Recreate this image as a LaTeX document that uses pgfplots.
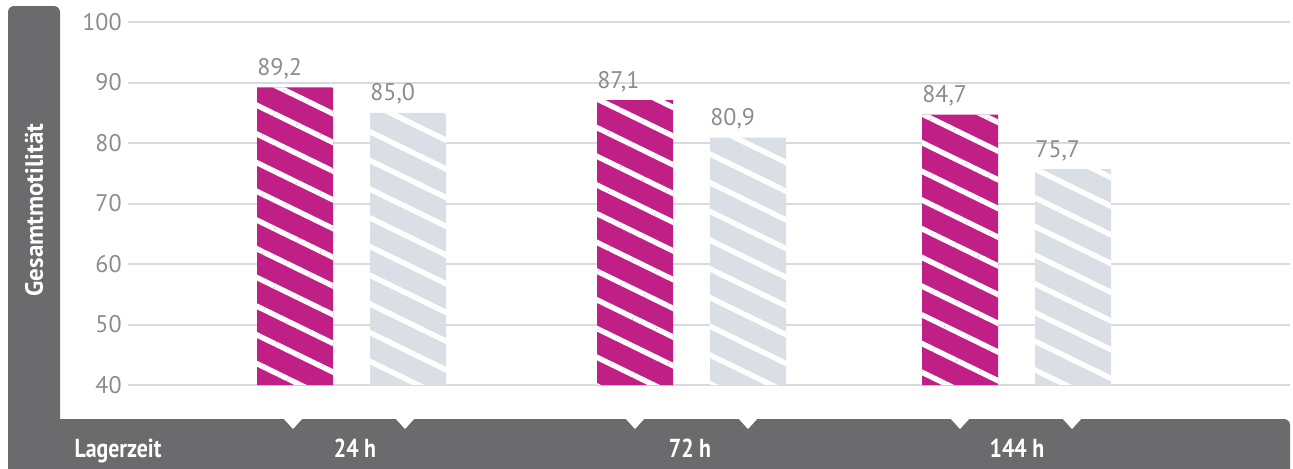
\documentclass[border=0pt]{standalone}
\usepackage{fontspec}
\setmainfont{PT Sans}
\usepackage{pgfplots}
\usepackage{pgfplotstable}
\pgfplotsset{compat=1.18}
\usetikzlibrary{patterns.meta}
\definecolor{mag}{HTML}{C01F86}
\definecolor{pale}{HTML}{D9DFE4}
\definecolor{band}{HTML}{6B6B6D}
\definecolor{gridc}{HTML}{D9D9E1}
\definecolor{numc}{HTML}{8C8C8C}
\newcommand\lab[1]{\scalebox{0.84}[1]{\bfseries #1}}

\pgfplotstableread{
x    v
295  89.2
635  87.1
960  84.7
}\kryo
\pgfplotstableread{
x    v
408  85.0
748  80.9
1073 75.7
}\kontrolle

\begin{document}
\begin{tikzpicture}
% background bands, 1 px = 0.5pt, y measured from top
\begin{scope}[x=0.5pt,y=-0.5pt,shift={(0pt,234pt)}]
  \fill[band] (8,472) [rounded corners=3pt] -- (8,6) -- (60,6) [sharp corners] -- (60,419)
    [rounded corners=3pt] -- (1290,419) [sharp corners] -- (1290,472) -- cycle;
  \foreach \c in {293,405,635,748,960,1072}
    \fill[white] (\c-10,418) -- (\c+10,418) -- (\c,429) -- cycle;
  \foreach \g in {0,10,...,60}
    \draw[gridc,line width=1pt] (128,385-\g*6.05) -- (1290,385-\g*6.05);
\end{scope}
\begin{axis}[
  scale only axis,
  width=646.5pt, height=234pt,
  at={(0,0)}, anchor=south west,
  xmin=0, xmax=1293,
  ymin=-13.72, ymax=63.64,
  axis line style={draw=none},
  major tick length=0pt,
  ytick={0,10,...,60},
  yticklabels={40,50,60,70,80,90,100},
  yticklabel style={anchor=east, inner sep=0pt, xshift=61pt,
    font=\fontsize{12}{13}\selectfont, text=numc},
  xtick={118,355,690,1017},
  xticklabels={\lab{Lagerzeit},\lab{24 h},\lab{72 h},\lab{144 h}},
  xticklabel style={anchor=base, inner sep=0pt, yshift=5.5pt,
    font=\fontsize{13}{14}\selectfont, text=white},
  ylabel={\bfseries Gesamtmotilität},
  every axis y label/.style={at={(rel axis cs:0.0263,0.5513)}, rotate=90,
    anchor=center, text=white, font=\fontsize{12.5}{13}\selectfont},
  /pgf/number format/assume math mode=true,
  ybar, bar width=76, bar shift=0pt,
  nodes near coords,
  point meta=explicit,
  every node near coord/.append style={anchor=base west, inner sep=0pt,
    xshift=-19pt, yshift=6pt, text=numc, font=\fontsize{12}{13}\selectfont,
    /pgf/number format/.cd, fixed, fixed zerofill, precision=1, use comma},
  clip=false,
]
\addplot[fill=mag, draw=none,
  postaction={pattern={Lines[angle=-26,distance=12.9pt,line width=2.7pt]}, pattern color=white}]
  table[x=x, y expr=\thisrow{v}-40, meta=v] {\kryo};
\addplot[fill=pale, draw=none,
  postaction={pattern={Lines[angle=-26,distance=12.9pt,line width=2.7pt]}, pattern color=white}]
  table[x=x, y expr=\thisrow{v}-40, meta=v] {\kontrolle};
\end{axis}
\pgfresetboundingbox
\path (0,0) rectangle (646.5pt,234pt);
\end{tikzpicture}
\end{document}
